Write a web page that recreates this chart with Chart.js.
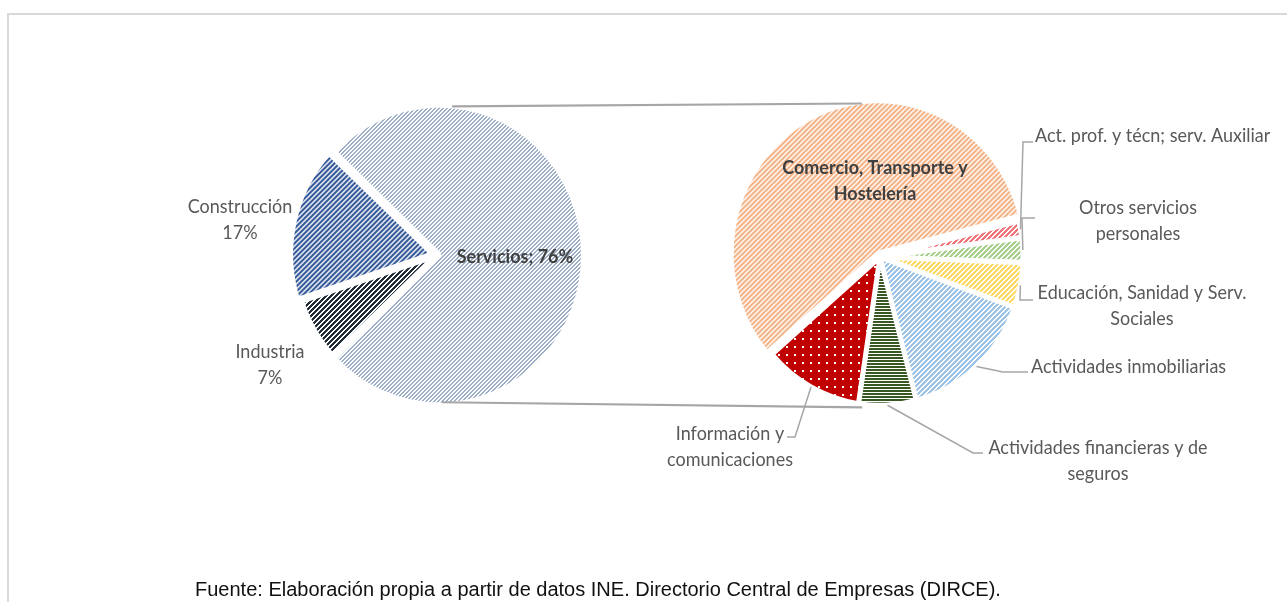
<!DOCTYPE html>
<html>
<head>
<meta charset="utf-8">
<script src="https://cdn.jsdelivr.net/npm/chart.js@4.4.1/dist/chart.umd.min.js"></script>
<style>
  body { margin: 0; background: #fff; }
  #wrap { position: relative; width: 1287px; height: 602px; overflow: hidden; }
  #frame { position: absolute; left: 7px; top: 13px; width: 1300px; height: 600px;
           border-left: 2px solid #d9d9d9; border-top: 2px solid #d9d9d9; }
  #wrap canvas { position: absolute; left: 0; top: 0; }
  #fuente { position: absolute; left: 195px; top: 578px; font-family: "Liberation Sans", Arial, sans-serif;
            font-size: 20px; color: #111; white-space: nowrap; }
</style>
</head>
<body>
<div id="wrap">
  <div id="frame"></div>
  <canvas id="mainPie" width="1287" height="602"></canvas>
  <canvas id="subPie" width="1287" height="602"></canvas>
  <div id="fuente">Fuente: Elaboración propia a partir de datos INE. Directorio Central de Empresas (DIRCE).</div>
</div>
<script>
// DATA
var mainLabels = ['Servicios', 'Industria', 'Construcción'];
var mainValues = [76, 7, 17];

var subLabels = [
  'Comercio, Transporte y Hostelería',
  'Act. prof. y técn; serv. Auxiliar',
  'Otros servicios personales',
  'Educación, Sanidad y Serv. Sociales',
  'Actividades inmobiliarias',
  'Actividades financieras y de seguros',
  'Información y comunicaciones'
];
var subValues = [57.5, 1.8, 2.7, 4.9, 15.4, 6.5, 11.2];

// the original picture is a little taller than wide: draw everything stretched
var SY = 602 / 580;
var FONT = 'Lato, "Open Sans", sans-serif';

var stretch = {
  id: 'stretch',
  beforeDraw: function(chart) { chart.ctx.save(); chart.ctx.scale(1, SY); },
  afterDraw: function(chart) { chart.ctx.restore(); }
};

// pixel hatches like the Excel pattern fills (kept crisp under the stretch)
function crisp(g, c) {
  var p = g.createPattern(c, 'repeat');
  p.setTransform(new DOMMatrix([1, 0, 0, 1 / SY, 0, 0]));
  return p;
}
function hatch(color, n, k, dir) {
  var c = document.createElement('canvas');
  c.width = n; c.height = n;
  var g = c.getContext('2d');
  g.fillStyle = '#fff';
  g.fillRect(0, 0, n, n);
  g.fillStyle = color;
  for (var y = 0; y < n; y++) {
    for (var x = 0; x < n; x++) {
      var v = dir === 'h' ? y : (x + y) % n;
      if (v < k) g.fillRect(x, y, 1, 1);
    }
  }
  return crisp(g, c);
}
function dots(bg, dot, size) {
  var c = document.createElement('canvas');
  c.width = size; c.height = size;
  var g = c.getContext('2d');
  g.fillStyle = bg;
  g.fillRect(0, 0, size, size);
  g.fillStyle = dot;
  g.fillRect(2, 2, 2, 2);
  return crisp(g, c);
}

var mainFills = [
  hatch('#9cadc7', 4, 2),
  hatch('#222b38', 5, 3),
  hatch('#2f5597', 5, 3)
];
var subFills = [
  hatch('#f4b183', 5, 3),
  hatch('#f2747b', 5, 3),
  hatch('#a9d18e', 5, 3),
  hatch('#ffd966', 5, 3),
  hatch('#9dc3e6', 5, 3),
  hatch('#385723', 3, 2, 'h'),
  dots('#c00000', '#ffffff', 8)
];

// label layout (page pixels)
var mainLabelLayout = [
  { x: 515, y: 257, bold: true },
  { x: 270, y: 352 },
  { x: 240, y: 207 }
];
var subLabelLayout = [
  { x: 875, y: 168, bold: true, wrap: 205 },
  { x: 1035, y: 136, align: 'left', path: [[1023, 142], [1033, 142]] },
  { x: 1138, y: 208, wrap: 150, path: [[1022, 218], [1035, 218]] },
  { x: 1142, y: 293, wrap: 235, path: [[1020, 300], [1033, 300]] },
  { x: 1031, y: 367, align: 'left', path: [[1003, 372], [1028, 372]] },
  { x: 1098, y: 448, wrap: 245, path: [[973, 453], [983, 453]] },
  { x: 730, y: 434, wrap: 130, path: [[795, 437], [787, 437]] }
];

function wrapText(ctx, text, maxW) {
  if (!maxW) return [text];
  var words = text.split(' '), lines = [], cur = '';
  words.forEach(function(w) {
    var t = cur ? cur + ' ' + w : w;
    if (cur && ctx.measureText(t).width > maxW) { lines.push(cur); cur = w; }
    else cur = t;
  });
  lines.push(cur);
  return lines;
}

function drawLabels(chart, layout, textFor) {
  var ctx = chart.ctx;
  var arcs = chart.getDatasetMeta(0).data;
  ctx.save();
  layout.forEach(function(l, i) {
    var arc = arcs[i];
    ctx.font = (l.bold ? 'bold ' : '') + '18px ' + FONT;
    var lines = textFor(i, ctx, l);
    if (l.path) {
      var mid = (arc.startAngle + arc.endAngle) / 2;
      ctx.strokeStyle = '#a6a6a6';
      ctx.lineWidth = 1.5;
      ctx.beginPath();
      ctx.moveTo(arc.x + Math.cos(mid) * arc.outerRadius, arc.y + Math.sin(mid) * arc.outerRadius);
      l.path.forEach(function(p) { ctx.lineTo(p[0], p[1] / SY); });
      ctx.stroke();
    }
    ctx.fillStyle = l.bold ? '#404040' : '#595959';
    ctx.textAlign = l.align || 'center';
    ctx.textBaseline = 'middle';
    lines.forEach(function(s, k) {
      ctx.fillText(s, l.x, (l.y + k * 26) / SY);
    });
  });
  ctx.restore();
}

var mainChart = new Chart(document.getElementById('mainPie'), {
  type: 'pie',
  data: {
    labels: mainLabels,
    datasets: [{
      data: mainValues,
      backgroundColor: mainFills,
      borderColor: '#ffffff',
      borderWidth: 6,
      offset: [8, 0, 14]
    }]
  },
  options: {
    responsive: false,
    animation: false,
    devicePixelRatio: 1,
    events: [],
    rotation: -46.8,
    radius: 143,
    layout: { padding: { left: 0, right: 413, top: 0, bottom: 110.6 } },
    plugins: { legend: { display: false }, tooltip: { enabled: false } }
  },
  plugins: [stretch, {
    id: 'mainLabels',
    afterDatasetsDraw: function(chart) {
      drawLabels(chart, mainLabelLayout, function(i) {
        if (i === 0) return [mainLabels[i] + '; ' + mainValues[i] + '%'];
        return [mainLabels[i], mainValues[i] + '%'];
      });
    }
  }]
});

new Chart(document.getElementById('subPie'), {
  type: 'pie',
  data: {
    labels: subLabels,
    datasets: [{
      data: subValues,
      backgroundColor: subFills,
      borderColor: '#ffffff',
      borderWidth: 5,
      offset: [16, 0, 0, 0, 0, 0, 0]
    }]
  },
  options: {
    responsive: false,
    animation: false,
    devicePixelRatio: 1,
    events: [],
    rotation: 229,
    radius: 143,
    layout: { padding: { left: 473, right: 0, top: 0, bottom: 106.8 } },
    plugins: { legend: { display: false }, tooltip: { enabled: false } }
  },
  plugins: [stretch, {
    id: 'connectors',
    afterDatasetsDraw: function(chart) {
      // lines joining the Servicios slice with the second pie
      var a = mainChart.getDatasetMeta(0).data[0];
      var b = chart.getDatasetMeta(0).data[0];
      var ctx = chart.ctx, d = Math.PI / 180;
      function pt(arc, deg, extra) {
        var r = arc.outerRadius + extra;
        return [arc.x + Math.cos(deg * d) * r, arc.y + Math.sin(deg * d) * r];
      }
      ctx.save();
      ctx.strokeStyle = '#a6a6a6';
      ctx.lineWidth = 2;
      [[-84, -97, 1, 6], [88, 97, -1, 3]].forEach(function(p) {
        var s = pt(a, p[0], p[2]), e = pt(b, p[1], p[3]);
        ctx.beginPath();
        ctx.moveTo(s[0], s[1]);
        ctx.lineTo(e[0], e[1]);
        ctx.stroke();
      });
      ctx.restore();

      drawLabels(chart, subLabelLayout, function(i, ctx2, l) {
        return wrapText(ctx2, subLabels[i], l.wrap);
      });
    }
  }]
});
</script>
</body>
</html>
